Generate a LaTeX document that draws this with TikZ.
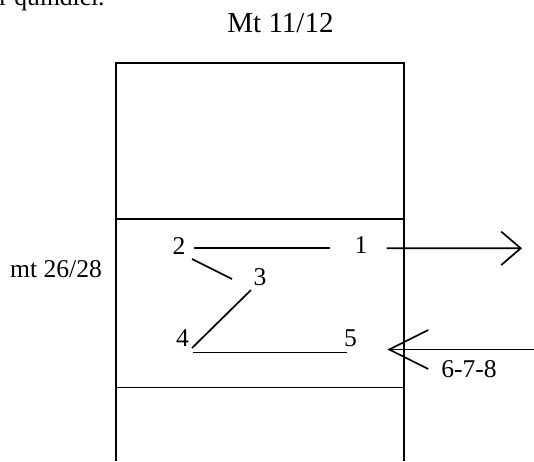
\documentclass[tikz,border=0pt]{standalone}
\usepackage{fontspec}
\setmainfont{Liberation Serif}
\usetikzlibrary{arrows.meta,calc}
\tikzset{
  lbl/.style={font=\fontsize{12.8}{15}\selectfont, inner sep=0pt, anchor=base},
  ttl/.style={font=\fontsize{14.5}{17}\selectfont, inner sep=0pt, anchor=base},
  wall/.style={black, line width=0.95pt},
  seg/.style={black, line width=0.85pt},
  outar/.style={-{Straight Barb[length=9.75pt, width=16.75pt, line width=0.85pt]}, seg},
  inar/.style={-{Straight Barb[length=19.5pt, width=19.5pt, line width=0.85pt]}, seg},
}
\begin{document}
\begin{tikzpicture}[x=0.5pt, y=-0.5pt]
  \clip (0,0) rectangle (534,461);
  % page text cut at the top
  \node[lbl, anchor=base west] (frag) at (-1,5) {r quindici.};
  % the column
  \draw[wall] (116,461) -- (116,62.7) -- (404,62.7) -- (404,461);
  \draw[wall] (116,219) -- (404,219);
  \draw[wall] (116,387.5) -- (404,387.5);
  \node[ttl] (top) at (280.5,32) {Mt 11/12};
  \node[lbl] (side) at (56,277.5) {mt 26/28};
  % points
  \node[lbl] (n1) at (361,253.5) {1};
  \node[lbl] (n2) at (179,254) {2};
  \node[lbl] (n3) at (260,285.5) {3};
  \node[lbl] (n4) at (182.5,346) {4};
  \node[lbl] (n5) at (350.5,346.5) {5};
  \node[lbl] (rest) at (469,377.5) {6-7-8};
  \coordinate (out) at (522,248.3);
  \coordinate (in) at (534,349.5);
  % path through the points
  \draw[seg] ($(n2.base)+(15,-6)$) -- ($(n1.base)+(-31,-5.5)$);
  \draw[seg] ($(n2.base)+(13,5)$) -- ($(n3.base)+(-28,-6.5)$);
  \draw[seg] ($(n3.base)+(-9,4.5)$) -- ($(n4.base)+(9.5,2)$);
  \draw[seg] ($(n4.base)+(10,6.5)$) -- ($(n5.base)+(-4,6)$);
  \draw[outar] ($(n1.base)+(25.5,-5.2)$) -- (out);
  \draw[inar] (in) -- ($(n5.base)+(36.8,3)$);
\end{tikzpicture}
\end{document}
